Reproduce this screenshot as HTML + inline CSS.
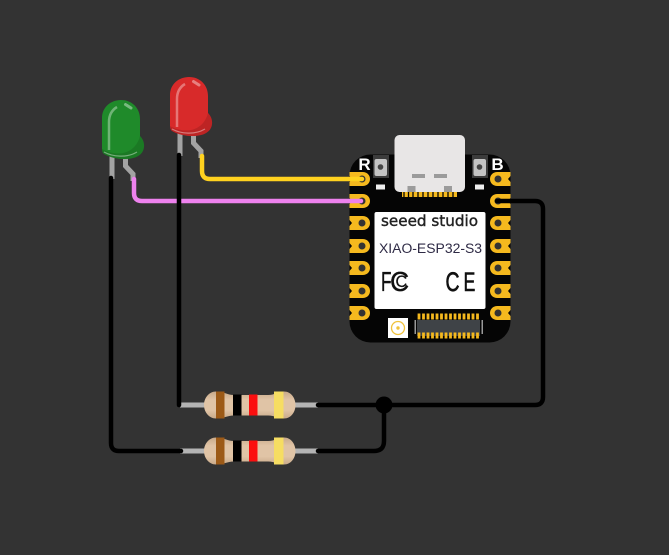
<!DOCTYPE html>
<html><head><meta charset="utf-8"><style>
html,body{margin:0;padding:0;background:#333;width:669px;height:555px;overflow:hidden}
svg{display:block}
text{font-family:"Liberation Sans",sans-serif}
</style></head><body>
<svg width="669" height="555" viewBox="0 0 669 555" xmlns="http://www.w3.org/2000/svg">
<defs>
<linearGradient id="tan" x1="0" y1="0" x2="0" y2="1">
<stop offset="0" stop-color="#c9aa8a"/><stop offset=".3" stop-color="#e0c4a6"/><stop offset=".7" stop-color="#e0c4a6"/><stop offset="1" stop-color="#c9aa8a"/>
</linearGradient>
<g id="padL"><path d="M349.500 -7H362.500C367.500 -7 370 -3.500 370 0S367.500 7 362.500 7H349.500V3L352 0L349.500 -3Z" fill="#f5b91e"/><circle cx="362" cy="0" r="3.500" fill="#333"/></g>
<g id="padR"><path d="M510.500 -7H497.500C492.500 -7 490 -3.500 490 0S492.500 7 497.500 7H510.500V3L508 0L510.500 -3Z" fill="#f5b91e"/><circle cx="498" cy="0" r="3.500" fill="#333"/></g>
<g id="res">
<rect x="180" y="-2.500" width="138" height="5" fill="#b4b4b4"/>
<path d="M216 -13.500C224 -13.500 227 -10 234 -10H268C275 -10 278 -13.500 284 -13.500C291 -13.500 295.500 -7 295.500 0S291 13.500 284 13.500C278 13.500 275 10.500 268 10.500H234C227 10.500 224 13.500 216 13.500C209 13.500 204 7 204 0S209 -13.500 216 -13.500Z" fill="url(#tan)"/>
<rect x="216" y="-13.500" width="8.500" height="27" fill="#9c5a17"/>
<rect x="233" y="-10.500" width="8.500" height="21" fill="#000"/>
<rect x="249" y="-10.500" width="8.500" height="21" fill="#fb0f0f"/>
<rect x="274" y="-13.500" width="9.500" height="27" fill="#f6dd62"/>
</g>
<g id="led">
<rect x="177.500" y="130" width="5" height="26" fill="#a3a3a3"/>
<path d="M193.500 130V143L201 151V158" fill="none" stroke="#a3a3a3" stroke-width="5"/>
<path d="M170 95C170 84 179 77 189 77C200 77 208 85 208 96V113C211 116 212.500 120 212 124C211.500 130 207 133 203 134.500C194 137.500 180 136 172 131C170.500 130 170 128 170 126Z" fill="currentColor"/>
<path d="M208 113C211 116 212.500 120 212 124C211.500 130 207 133 203 134.500C194 137.500 180 136 172 131C170.500 130 170 128 170 126C184 134 203 132 208 113Z" fill="#000" opacity=".12"/>
<path d="M177 127V99C177 92 180 87 185 84" fill="none" stroke="#fff" stroke-width="2.500" opacity=".36"/>
<path d="M193.500 81.500L199 85" fill="none" stroke="#fff" stroke-width="3" stroke-linecap="round" opacity=".4"/>
<path d="M172 129C181 134 195 135 205 129" fill="none" stroke="#fff" stroke-width="1.200" opacity=".4"/>
</g>
</defs>

<rect width="669" height="555" fill="#333"/>

<use href="#res" y="405"/>
<use href="#res" y="451"/>

<use href="#led" style="color:#d82a2a"/>
<use href="#led" x="-68" y="23" style="color:#1f8a2a"/>

<rect x="349.500" y="154.500" width="161" height="188" rx="21" fill="#050505"/>
<use href="#padL" y="179"/><use href="#padL" y="201"/><use href="#padL" y="223"/><use href="#padL" y="246"/><use href="#padL" y="268"/><use href="#padL" y="291"/><use href="#padL" y="313"/>
<use href="#padR" y="179"/><use href="#padR" y="201"/><use href="#padR" y="223"/><use href="#padR" y="246"/><use href="#padR" y="268"/><use href="#padR" y="291"/><use href="#padR" y="313"/>

<rect x="373" y="155" width="16" height="23" fill="#3c3c3c"/>
<rect x="374.500" y="159" width="12.500" height="17" rx="2" fill="#c4c4c4"/><circle cx="380.500" cy="167" r="2.800" fill="#444"/>
<rect x="472" y="155" width="16" height="23" fill="#3c3c3c"/>
<rect x="473.500" y="159" width="12.500" height="17" rx="2" fill="#c4c4c4"/><circle cx="479.500" cy="167" r="2.800" fill="#444"/>
<rect x="376" y="184.500" width="9" height="5" fill="#eee"/>
<rect x="475" y="184.500" width="9" height="5" fill="#eee"/>
<text x="364.500" y="170" font-size="17" font-weight="700" fill="#fff" text-anchor="middle">R</text>
<text x="497.500" y="170" font-size="17" font-weight="700" fill="#fff" text-anchor="middle">B</text>

<path d="M402 192h55v5h-55z" fill="#f5b91e"/>
<path d="M404 192v5M408.500 192v5M413 192v5M418 192v5M423 192v5M428 192v5M433 192v5M438 192v5M443 192v5M448 192v5M453 192v5" stroke="#050505" stroke-width="1.300"/>
<rect x="394.500" y="135" width="70.500" height="57" rx="5" fill="#e8e6e6"/>
<rect x="412" y="174" width="13" height="4" fill="#9b9b9b"/><rect x="434" y="174" width="13" height="4" fill="#9b9b9b"/>
<rect x="407.500" y="186" width="8" height="6" fill="#9b9b9b"/><rect x="444" y="186" width="8" height="6" fill="#9b9b9b"/>

<rect x="374.500" y="212" width="111" height="97" rx="2" fill="#fff"/>
<text x="381" y="226" font-size="15" style="font-family:'DejaVu Sans',sans-serif" fill="#222" stroke="#222" stroke-width=".4" textLength="97" lengthAdjust="spacingAndGlyphs">seeed studio</text>
<text x="379" y="253" font-size="13.500" fill="#2e2a45" textLength="103" lengthAdjust="spacingAndGlyphs">XIAO-ESP32-S3</text>

<text transform="translate(381 291) scale(.62 1)" font-size="28" fill="#111" stroke="#111" stroke-width=".3">F</text>
<text transform="translate(390 291) scale(.95 1)" font-size="28" fill="#111" stroke="#111" stroke-width=".3">C</text>
<text transform="translate(395.500 287) scale(.95 1)" font-size="17" fill="#111" stroke="#111" stroke-width=".2">C</text>

<text transform="translate(445.500 291) scale(.72 1)" font-size="27" fill="#111" stroke="#111" stroke-width=".7">C</text>
<text transform="translate(463.500 291) scale(.66 1)" font-size="27" fill="#111" stroke="#111" stroke-width=".5">E</text>

<rect x="388" y="318" width="20" height="20" fill="#fff"/>
<circle cx="398" cy="328" r="6.500" fill="none" stroke="#f0c23c" stroke-width="1.300"/>
<circle cx="398" cy="328" r="1.700" fill="#f0c23c"/>

<rect x="417" y="320" width="63" height="16" fill="#3f4347"/>
<rect x="414.500" y="320" width="1.500" height="14" fill="#999"/><rect x="481.500" y="320" width="1.500" height="14" fill="#999"/>
<path d="M419 313.500v6M423.500 313.500v6M428 313.500v6M432.500 313.500v6M437 313.500v6M441.500 313.500v6M446 313.500v6M450.500 313.500v6M455 313.500v6M459.500 313.500v6M464 313.500v6M468.500 313.500v6M473 313.500v6M477.500 313.500v6" stroke="#f5b91e" stroke-width="2.800"/>
<path d="M419 332.500v6M423.500 332.500v6M428 332.500v6M432.500 332.500v6M437 332.500v6M441.500 332.500v6M446 332.500v6M450.500 332.500v6M455 332.500v6M459.500 332.500v6M464 332.500v6M468.500 332.500v6M473 332.500v6M477.500 332.500v6" stroke="#f5b91e" stroke-width="2.800"/>

<g fill="none" stroke-width="4.500" stroke-linecap="round" stroke-linejoin="round">
<path d="M202 156V171Q202 179 210 179H362" stroke="#ffd21f"/>
<path d="M134 179V193Q134 201 142 201H361" stroke="#ee82ee"/>
<path d="M179 155V405" stroke="#000"/>
<path d="M111 178V443Q111 451 119 451H181" stroke="#000"/>
<path d="M318 405H535Q543 405 543 397V209Q543 201 535 201H497" stroke="#000"/>
<path d="M318 451H374Q384 451 384 441V405" stroke="#000"/>
</g>
<circle cx="384" cy="405" r="8.500" fill="#000"/>
</svg>
</body></html>
